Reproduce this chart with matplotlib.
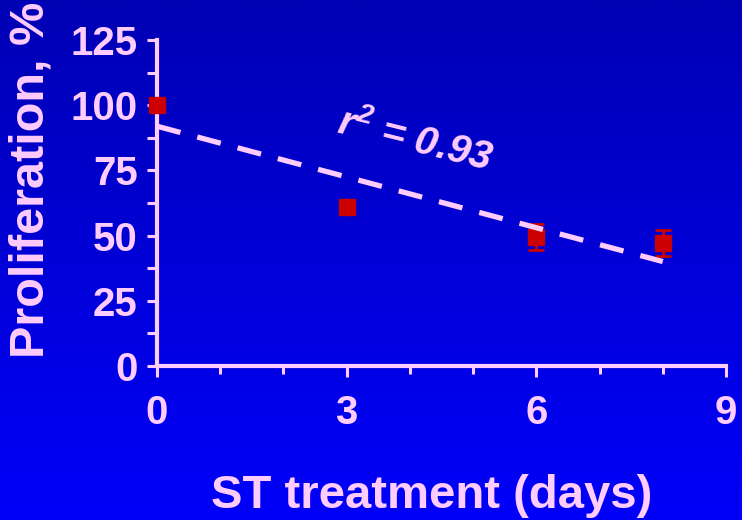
import numpy as np
import matplotlib
matplotlib.use("Agg")
import matplotlib.pyplot as plt

# donnees
jours = [0, 3, 6, 8]
prolif = [100, 61, 49.5, 47]
erreur = [0, 2.5, 5, 5]
r2_texte = "r$^{2}$ = 0.93"

rose = "#FFCCFF"
rouge = "#CC0000"

plt.rcParams["font.family"] = ["Liberation Sans", "DejaVu Sans"]
plt.rcParams["font.weight"] = "bold"
plt.rcParams["mathtext.default"] = "regular"

fig = plt.figure(figsize=(7.42, 5.20), dpi=100)

# fond en degrade bleu
fond = fig.add_axes([0, 0, 1, 1])
grad = np.linspace(0, 1, 256).reshape(-1, 1)
cmap = matplotlib.colors.LinearSegmentedColormap.from_list("bleu", ["#0000B4", "#0000FA"])
fond.imshow(grad, aspect="auto", cmap=cmap, extent=[0, 1, 0, 1], origin="upper")
fond.axis("off")

ax = fig.add_axes([157 / 742, 1 - 366 / 520, 569 / 742, 326 / 520])
ax.set_facecolor("none")

ax.errorbar(jours, prolif, yerr=erreur, fmt="s", color=rouge, ms=12,
            elinewidth=2, capsize=5.5, capthick=2, clip_on=False, zorder=3)

# droite de regression
pente, origine = np.polyfit(jours, prolif, 1)
xs = np.array([jours[0], jours[-1]])
ligne, = ax.plot(xs, pente * xs + origine, color=rose, lw=3.8, zorder=4,
                 solid_capstyle="butt", dash_capstyle="butt")
ligne.set_dashes((4.6, 3.3))

ax.text(4.08, 86.5, r2_texte, color=rose, fontsize=29, fontstyle="italic",
        fontweight="bold", rotation=-14, ha="center", va="center",
        rotation_mode="anchor")

ax.set_xlim(0, 9)
ax.set_ylim(0, 125)
ax.set_xticks([0, 3, 6, 9])
ax.set_xticks(range(0, 10), minor=True)
ax.set_yticks([0, 25, 50, 75, 100, 125])
ax.set_yticks(np.arange(12.5, 125, 25), minor=True)

for s in ["top", "right"]:
    ax.spines[s].set_visible(False)
for s in ["left", "bottom"]:
    ax.spines[s].set_color(rose)
    ax.spines[s].set_linewidth(3)

ax.tick_params(axis="x", which="major", length=8, width=2.2, color=rose,
               labelcolor=rose, labelsize=29, pad=12)
ax.tick_params(axis="x", which="minor", length=6, width=2.2, color=rose)
ax.tick_params(axis="y", which="both", length=7, width=2.2, color=rose,
               labelcolor=rose, labelsize=29, pad=7)

fig.text(31 / 742, 1 - 180 / 520, "Proliferation, %", color=rose, fontsize=35,
         rotation=90, ha="center", va="center")
fig.text(432 / 742, 1 - 508 / 520, "ST treatment (days)", color=rose, fontsize=34,
         ha="center", va="baseline")

fig.savefig("out.png", dpi=100)
